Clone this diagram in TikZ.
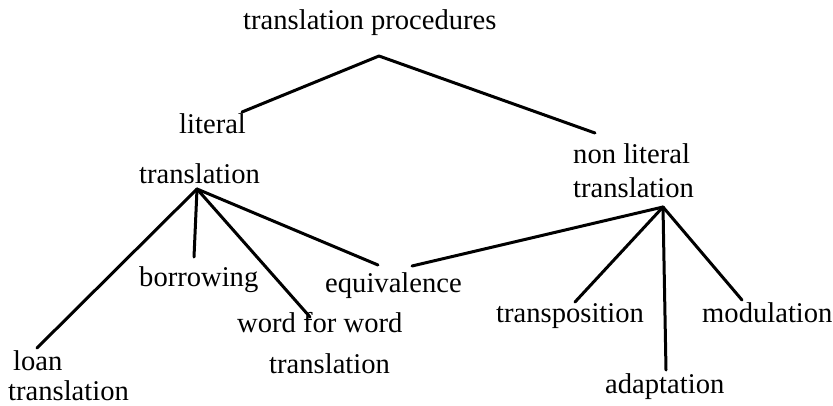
\documentclass[tikz,border=0pt]{standalone}
\usepackage{fontspec}
\setmainfont{Liberation Serif}
\usepackage{tikz}
\usetikzlibrary{calc}
\tikzset{
  base/.style={draw=black, line width=3pt, line cap=round, line join=round},
  lab/.style={text=black, font=\fontsize{28.6}{30}\selectfont, inner sep=0pt, anchor=base west},
}

\begin{document}
\begin{tikzpicture}[x=1pt,y=-1pt]
  \useasboundingbox (0,0) rectangle (833,405);

  % labels
  \node[lab] (proc) at (243,29) {translation procedures};
  \node[lab] (lit1) at (179,133) {literal};
  \node[lab] (lit2) at (139,183) {translation};
  \node[lab] (nlit1) at (573,163) {non literal};
  \node[lab] (nlit2) at (573,197) {translation};
  \node[lab] (borr) at (139,286) {borrowing};
  \node[lab] (equi) at (325,292) {equivalence};
  \node[lab] (wfw1) at (237,332) {word for word};
  \node[lab] (wfw2) at (269,373) {translation};
  \node[lab] (loan1) at (13,370) {loan};
  \node[lab] (loan2) at (8,400) {translation};
  \node[lab] (trans) at (496,322) {transposition};
  \node[lab] (modu) at (702,322) {modulation};
  \node[lab] (adap) at (605,393) {adaptation};

  % branch points and line ends
  \coordinate (top) at (379,56);
  \coordinate (litend) at (242,112);
  \coordinate (nlitend) at (595,133);
  \coordinate (litfan) at (197,189);
  \coordinate (loanend) at (37,348);
  \coordinate (borrend) at (194,257);
  \coordinate (wfwend) at (310,317);
  \coordinate (equiend) at (378,265);
  \coordinate (equiright) at (412,266);
  \coordinate (nlitfan) at (663,207);
  \coordinate (transend) at (575,302);
  \coordinate (adapend) at (666,370);
  \coordinate (moduend) at (742,300);

  \draw[base] (litend) -- (top) -- (nlitend);
  \draw[base] (litfan) -- (loanend);
  \draw[base] (litfan) -- (borrend);
  \draw[base] (litfan) -- (wfwend);
  \draw[base] (litfan) -- (equiend);
  \draw[base] (equiright) -- (nlitfan);
  \draw[base] (nlitfan) -- (transend);
  \draw[base] (nlitfan) -- (adapend);
  \draw[base] (nlitfan) -- (moduend);
\end{tikzpicture}
\end{document}
